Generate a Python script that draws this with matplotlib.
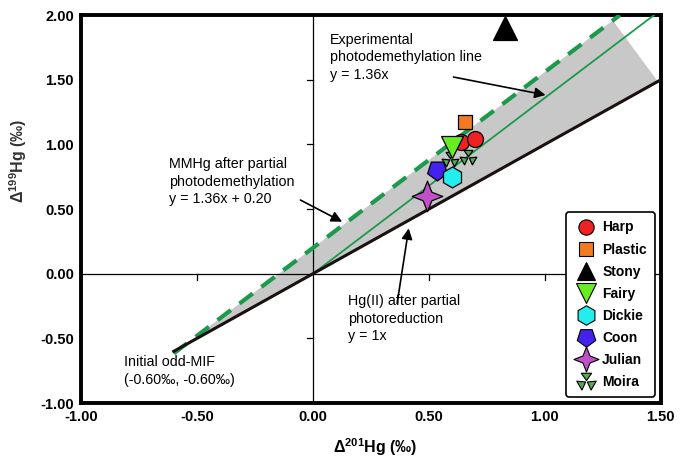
import matplotlib
matplotlib.use('Agg')
import matplotlib.pyplot as plt
from matplotlib.path import Path
from matplotlib.lines import Line2D
from matplotlib.patches import Polygon
import numpy as np

plt.rcParams['font.family'] = ['Liberation Sans', 'DejaVu Sans']
plt.rcParams['mathtext.fontset'] = 'custom'
plt.rcParams['mathtext.rm'] = 'Liberation Sans'
plt.rcParams['mathtext.bf'] = 'Liberation Sans:bold'

# ---- data ----
sites = ['Harp', 'Plastic', 'Stony', 'Fairy', 'Dickie', 'Coon', 'Julian', 'Moira']
d201 = {
    'Harp': [0.64, 0.70], 'Plastic': [0.655], 'Stony': [0.83], 'Fairy': [0.60],
    'Dickie': [0.60], 'Coon': [0.535], 'Julian': [0.49], 'Moira': [0.59, 0.67],
}
d199 = {
    'Harp': [1.02, 1.04], 'Plastic': [1.17], 'Stony': [1.90], 'Fairy': [0.98],
    'Dickie': [0.745], 'Coon': [0.80], 'Julian': [0.60], 'Moira': [0.89, 0.90],
}
x_ticks = [-1.0, -0.5, 0.0, 0.5, 1.0, 1.5]
y_ticks = [-1.0, -0.5, 0.0, 0.5, 1.0, 1.5, 2.0]
initial_mif = (-0.60, -0.60)
slope_exp = 1.36
intercept_mmhg = 0.20
slope_hg2 = 1.0

# ---- custom marker for Moira (three small triangles) ----
verts, codes = [], []
for th in (90, 210, 330):
    t = np.deg2rad(th)
    apex = 0.10 * np.array([np.cos(t), np.sin(t)])
    a1 = np.deg2rad(th - 32); a2 = np.deg2rad(th + 32)
    b1 = np.array([np.cos(a1), np.sin(a1)])
    b2 = np.array([np.cos(a2), np.sin(a2)])
    verts += [apex, b1, b2, apex]
    codes += [Path.MOVETO, Path.LINETO, Path.LINETO, Path.CLOSEPOLY]
moira_marker = Path(np.array(verts), codes)

# ---- custom 4-point star for Julian ----
sv = []
for k in range(8):
    ang = np.deg2rad(90 + 45 * k)
    r = 1.0 if k % 2 == 0 else 0.40
    sv.append([r * np.cos(ang), r * np.sin(ang)])
sv.append(sv[0])
star4 = Path(np.array(sv), [Path.MOVETO] + [Path.LINETO] * 7 + [Path.CLOSEPOLY])

styles = {
    'Harp':    dict(marker='o', color='#ee2222', ms=11.5),
    'Plastic': dict(marker='s', color='#f47a1f', ms=10.5),
    'Stony':   dict(marker='^', color='#000000', ms=17),
    'Fairy':   dict(marker='v', color='#66ee22', ms=16),
    'Dickie':  dict(marker='h', color='#22eeee', ms=15),
    'Coon':    dict(marker=(5, 0, 180), color='#4422ee', ms=15),
    'Julian':  dict(marker=star4, color='#c050c8', ms=22),
    'Moira':   dict(marker=moira_marker, color='#55aa55', ms=12),
}
leg_ms = {'Harp': 11, 'Plastic': 10.5, 'Stony': 13, 'Fairy': 14, 'Dickie': 14,
          'Coon': 14, 'Julian': 18, 'Moira': 14}

fig = plt.figure(figsize=(6.92, 4.57), dpi=100)
ax = fig.add_axes([0.117, 0.118, 0.838, 0.849])
ax.set_xlim(-1.0, 1.5)
ax.set_ylim(-1.0, 2.0)

green = '#1a9a4a'
# shaded wedge between y = x and y = 1.36x + 0.20
x0 = initial_mif[0]
xt = 1.293
xr = 1.487
poly = Polygon([(x0, slope_hg2 * x0), (xr, slope_hg2 * xr),
                (xt, slope_exp * xt + intercept_mmhg),
                (x0, slope_exp * x0 + intercept_mmhg)],
               closed=True, facecolor='#c8c8c8', edgecolor='none', zorder=1)
ax.add_patch(poly)

# crosshair at zero
ax.axhline(0, color='black', lw=0.9, zorder=2)
ax.axvline(0, color='black', lw=0.9, zorder=2)
# small ticks on crosshair
for xv in [-0.5, 0.5, 1.0]:
    ax.plot([xv, xv], [0, -0.045], color='black', lw=0.9, zorder=2)
for yv in [-0.5, 0.5, 1.0, 1.5]:
    ax.plot([0, -0.026], [yv, yv], color='black', lw=0.9, zorder=2)

# lines
xs = np.array([0.0, (2.0) / slope_exp])
ax.plot(xs, slope_exp * xs, color=green, lw=1.3, zorder=3)
xd = np.array([x0, (2.0 - intercept_mmhg) / slope_exp])
ax.plot(xd, slope_exp * xd + intercept_mmhg, color=green, lw=3,
        dashes=(4.0, 2.6), zorder=3)
xb = np.array([x0, 1.5])
ax.plot(xb, slope_hg2 * xb, color='#1a1010', lw=2.2, zorder=3)

# data points
order = ['Moira', 'Harp', 'Plastic', 'Fairy', 'Coon', 'Dickie', 'Julian', 'Stony']
for s in order:
    st = styles[s]
    ax.plot(d201[s], d199[s], linestyle='none', marker=st['marker'],
            markersize=st['ms'], markerfacecolor=st['color'],
            markeredgecolor='black', markeredgewidth=0.9, zorder=5)

# annotations
fs = 10.3
ls = 1.3
arrow_kw = dict(arrowstyle='-|>', color='black', lw=1.2, mutation_scale=16,
                shrinkA=0, shrinkB=0)
ax.text(0.075, 1.86, 'Experimental\nphotodemethylation line\ny = 1.36x',
        fontsize=fs, va='top', ha='left', linespacing=ls, zorder=6)
ax.annotate('', xy=(1.003, 1.382), xytext=(0.606, 1.521), arrowprops=arrow_kw, zorder=6)

ax.text(-0.62, 0.90, 'MMHg after partial\nphotodemethylation\ny = 1.36x + 0.20',
        fontsize=fs, va='top', ha='left', linespacing=ls, zorder=6)
ax.annotate('', xy=(0.126, 0.402), xytext=(-0.054, 0.57), arrowprops=arrow_kw, zorder=6)

ax.text(0.15, -0.16, 'Hg(II) after partial\nphotoreduction\ny = 1x',
        fontsize=fs, va='top', ha='left', linespacing=ls, zorder=6)
ax.annotate('', xy=(0.413, 0.351), xytext=(0.363, -0.229), arrowprops=arrow_kw, zorder=6)

ax.text(-0.815, -0.63, 'Initial odd-MIF\n(-0.60‰, -0.60‰)',
        fontsize=fs, va='top', ha='left', linespacing=ls, zorder=6)

# axes styling
for sp in ax.spines.values():
    sp.set_linewidth(2.8)
ax.set_xticks(x_ticks)
ax.set_yticks(y_ticks)
ax.set_xticklabels([f'{v:.2f}' for v in x_ticks], fontsize=10.5, fontweight='bold')
ax.set_yticklabels([f'{v:.2f}' for v in y_ticks], fontsize=10.5, fontweight='bold')
ax.tick_params(length=0, pad=5)

ax.set_xlabel(r'Δ$^{\mathbf{201}}$Hg (‰)', fontsize=11.5, fontweight='bold')
ax.set_ylabel(r'Δ$^{\mathbf{199}}$Hg (‰)', fontsize=11.5, fontweight='bold', color='#333333')
ax.xaxis.set_label_coords(0.507, -0.085)
ax.yaxis.set_label_coords(-0.09, 0.625)

# legend
handles = []
for s in sites:
    st = styles[s]
    handles.append(Line2D([], [], linestyle='none', marker=st['marker'],
                          markersize=leg_ms[s], markerfacecolor=st['color'],
                          markeredgecolor='black', markeredgewidth=0.8, label=s))
leg = ax.legend(handles=handles, loc='lower right', bbox_to_anchor=(0.995, 0.008),
                frameon=True, fancybox=True, edgecolor='black', framealpha=1,
                prop=dict(weight='bold', size=10), labelspacing=0.58,
                handletextpad=0.3, handlelength=1.7, borderpad=0.6,
                borderaxespad=0.2)
leg.get_frame().set_linewidth(1.2)
leg.set_zorder(10)

fig.savefig('out.png', dpi=100)
